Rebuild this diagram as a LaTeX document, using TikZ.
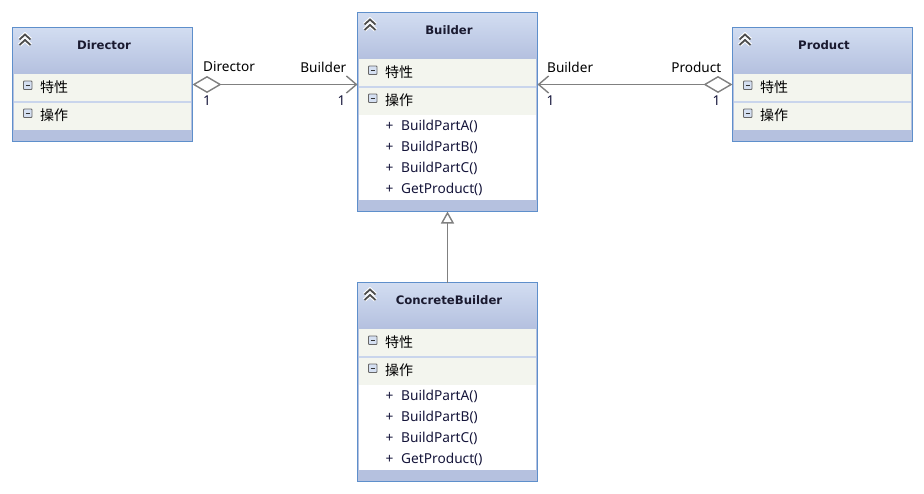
\documentclass[tikz,border=0pt]{standalone}
\usepackage{fontspec}
\setmainfont{Noto Sans}
\newfontfamily\cjkfont{Noto Sans CJK SC}
\newfontfamily\boldfont{DejaVu Sans}
\usetikzlibrary{arrows.meta,calc}
\definecolor{bordercol}{HTML}{5E8FCB}
\definecolor{headtop}{HTML}{D2DDF1}
\definecolor{headbot}{HTML}{B4C0DF}
\definecolor{footcol}{HTML}{B5C1DF}
\definecolor{rowcol}{HTML}{F3F5EE}
\definecolor{sepcol}{HTML}{C9D5EC}
\definecolor{linecol}{HTML}{808080}
\definecolor{txtcol}{HTML}{1A1A30}
\definecolor{membercol}{HTML}{15153A}
\definecolor{iconfill}{HTML}{D5E0F2}
\tikzset{
  classbox/.style={fill=footcol,draw=none,inner sep=0pt,outer sep=0pt,anchor=north west,minimum width=180pt},
  titletext/.style={font=\boldfont\bfseries\fontsize{11.7}{14}\selectfont,text=txtcol,inner sep=0pt},
  grouptext/.style={font=\cjkfont\fontsize{14}{16}\selectfont,text=black,inner sep=0pt,anchor=west},
  membertext/.style={font=\fontsize{13.7}{16}\selectfont,text=membercol,inner sep=0pt,anchor=west},
  linktext/.style={font=\fontsize{13.6}{16}\selectfont,text=black,inner sep=0pt},
  multtext/.style={font=\fontsize{13.6}{16}\selectfont,text=membercol,inner sep=0pt},
  conn/.style={draw=linecol,line width=1.4pt},
  barbtip/.tip={Straight Barb[length=10pt,width=17pt,line width=1.4pt]},
  diamtip/.tip={Diamond[length=29pt,width=17pt,fill=white,line width=1.4pt]},
  gentip/.tip={Triangle[length=12pt,width=13pt,fill=white,line width=1.4pt]},
}
% name, x, y, height, title
\newcommand{\umlclass}[5]{%
  \node[classbox,minimum height=#4pt] (#1) at (#2,#3) {};
  \begin{scope}[shift={(#2,#3)}]
    \shade[top color=headtop,bottom color=headbot] (0,0) rectangle (180,46.5);
    \fill[rowcol] (1.5,46.5) rectangle (178.5,73.5);
    \fill[sepcol] (1.5,73.5) rectangle (178.5,75.5);
    \fill[rowcol] (1.5,75.5) rectangle (178.5,102.5);
    \node[titletext] (#1-title) at (91.5,18) {#5};
    % collapse chevrons
    \foreach \c/\w in {white/4pt,black!70/1.8pt}{
      \draw[draw=\c,line width=\w] (7,12) -- (12.5,7) -- (18,12);
      \draw[draw=\c,line width=\w] (7,17.5) -- (12.5,12.5) -- (18,17.5);
    }
    % group icons
    \draw[draw=black!60,fill=iconfill,rounded corners=0.8pt,line width=0.9pt] (11,53.5) rectangle (19.5,62);
    \draw[draw=black!80,line width=1.1pt] (13,57.7) -- (17.5,57.7);
    \draw[draw=black!60,fill=iconfill,rounded corners=0.8pt,line width=0.9pt] (11,81.5) rectangle (19.5,90);
    \draw[draw=black!80,line width=1.1pt] (13,85.7) -- (17.5,85.7);
    \node[grouptext] (#1-attr) at (27.5,59.5) {特性};
    \node[grouptext] (#1-oper) at (27.5,87.5) {操作};
  \end{scope}
}
% owner, x, y, text
\newcommand{\umlmember}[4]{%
  \node[membertext] (#1-plus) at (#2+28,#3) {+};
  \node[membertext] (#1-name) at (#2+43.5,#3) {#4};
}
\newcommand{\umlborder}[1]{%
  \draw[draw=bordercol,line width=1pt] (#1.north west) rectangle (#1.south east);
}
\begin{document}
\begin{tikzpicture}[x=1pt,y=-1pt]
\useasboundingbox (0,0) rectangle (924,493);
\fill[white] (0,0) rectangle (924,493);

\umlclass{director}{12.5}{27.5}{114}{Director}
\umlclass{builder}{357.5}{12.5}{199}{Builder}
\umlclass{concrete}{357.5}{282.5}{199}{ConcreteBuilder}
\umlclass{product}{732.5}{27.5}{114}{Product}

\fill[white] (359,115) rectangle (536,200);
\fill[white] (359,385) rectangle (536,470);

\umlmember{ba}{357.5}{126.5}{BuildPartA()}
\umlmember{bb}{357.5}{147.5}{BuildPartB()}
\umlmember{bc}{357.5}{168.5}{BuildPartC()}
\umlmember{bd}{357.5}{189.5}{GetProduct()}
\umlmember{ca}{357.5}{396.5}{BuildPartA()}
\umlmember{cb}{357.5}{417.5}{BuildPartB()}
\umlmember{cc}{357.5}{438.5}{BuildPartC()}
\umlmember{cd}{357.5}{459.5}{GetProduct()}

\umlborder{director}
\umlborder{builder}
\umlborder{concrete}
\umlborder{product}

\draw[conn,{diamtip}-{barbtip}] (director.east) -- (builder.west |- director.east);
\draw[conn,{diamtip}-{barbtip}] (product.west) -- (builder.east |- product.west);
\draw[conn,-{gentip}] (concrete.north) -- (builder.south);

\node[linktext,anchor=west] (l1) at (203,67) {Director};
\node[linktext,anchor=east] (l2) at (346.5,67) {Builder};
\node[multtext] (m1) at (207,101) {1};
\node[multtext] (m2) at (341.5,101) {1};
\node[linktext,anchor=west] (l3) at (547,67) {Builder};
\node[linktext,anchor=east] (l4) at (721.5,67) {Product};
\node[multtext] (m3) at (550.5,101) {1};
\node[multtext] (m4) at (716.5,101) {1};
\end{tikzpicture}
\end{document}
